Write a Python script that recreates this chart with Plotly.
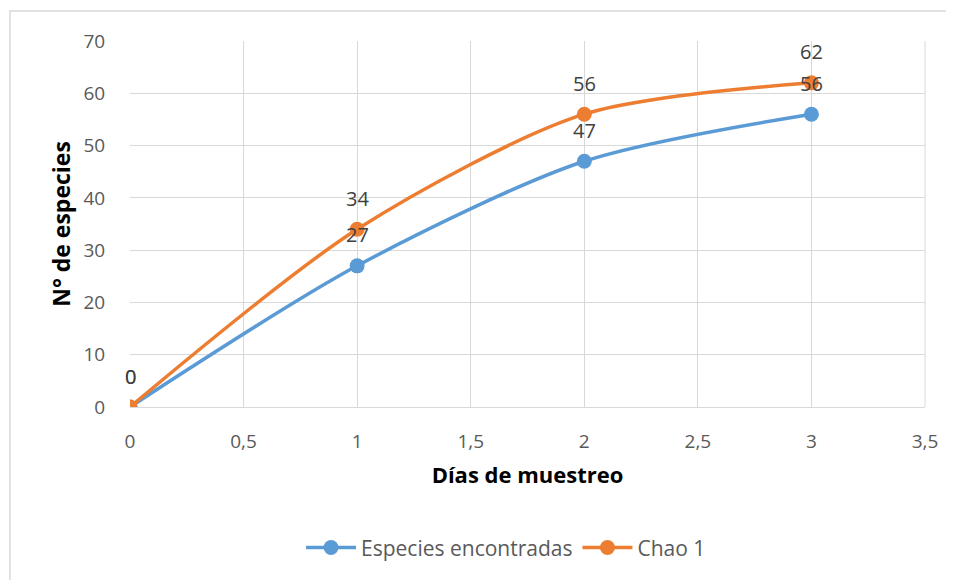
import plotly.graph_objs as go

dias = [0, 1, 2, 3]
especies_encontradas = [0, 27, 47, 56]
chao1 = [0, 34, 56, 62]

x_ticks = [0, 0.5, 1, 1.5, 2, 2.5, 3, 3.5]
x_tick_labels = ['0', '0,5', '1', '1,5', '2', '2,5', '3', '3,5']
y_ticks = [0, 10, 20, 30, 40, 50, 60, 70]

BLUE = '#5B9BD5'
ORANGE = '#ED7D31'
FONT = 'Open Sans'

trace_esp = go.Scatter(x=dias, y=especies_encontradas, name='Especies encontradas',
                       mode='lines+markers', line=dict(color=BLUE, width=3.5, shape='spline', smoothing=0.8),
                       marker=dict(color=BLUE, size=15))
trace_chao = go.Scatter(x=dias, y=chao1, name='Chao 1',
                        mode='lines+markers', line=dict(color=ORANGE, width=3.5, shape='spline', smoothing=0.8),
                        marker=dict(color=ORANGE, size=15))

# etiquetas de datos encima de cada punto
annotations = []
for xs, ys in [(dias, especies_encontradas), (dias, chao1)]:
    for xv, yv in zip(xs, ys):
        annotations.append(dict(x=xv, y=yv, text=str(yv), showarrow=False, yshift=31,
                                font=dict(family=FONT, size=20, color='#404040')))

# el body de la página añade 8px de margen
layout = go.Layout(
    width=938, height=572,
    margin=dict(l=122, r=21, t=33, b=173),
    paper_bgcolor='white', plot_bgcolor='white',
    font=dict(family=FONT, size=20, color='#595959'),
    xaxis=dict(range=[0, 3.5], tickvals=x_ticks, ticktext=x_tick_labels, automargin=False,
               showgrid=True, gridcolor='#D9D9D9', gridwidth=1,
               showline=True, linecolor='#D9D9D9', zeroline=False,
               ticks='outside', ticklen=17, tickcolor='white',
               tickfont=dict(size=19, color='#595959'),
               title=dict(text='<b>Días de muestreo</b>', font=dict(family=FONT, size=22, color='black'),
                          standoff=14)),
    yaxis=dict(range=[0, 70], tickvals=y_ticks, automargin=False,
               showgrid=True, gridcolor='#D9D9D9', gridwidth=1,
               showline=False, zeroline=False, ticks='outside', ticklen=20, tickcolor='white',
               tickfont=dict(size=19, color='#595959'),
               title=dict(text='<b>N° de especies</b>', font=dict(family=FONT, size=23, color='black'),
                          standoff=6)),
    legend=dict(orientation='h', x=0.473, xanchor='center', y=-0.385, yanchor='middle',
                font=dict(size=21, color='#595959'), itemwidth=50),
    annotations=annotations,
    shapes=[dict(type='rect', xref='paper', yref='paper', x0=-0.151, x1=1.07, y0=-0.52, y1=1.082,
                 line=dict(color='#D9D9D9', width=1.5), layer='below'),
            dict(type='line', xref='paper', yref='paper', x0=1, x1=1, y0=0, y1=1,
                 line=dict(color='#D9D9D9', width=1))],
)

fig = go.Figure(data=[trace_esp, trace_chao], layout=layout)
fig.write_html('out.html')
